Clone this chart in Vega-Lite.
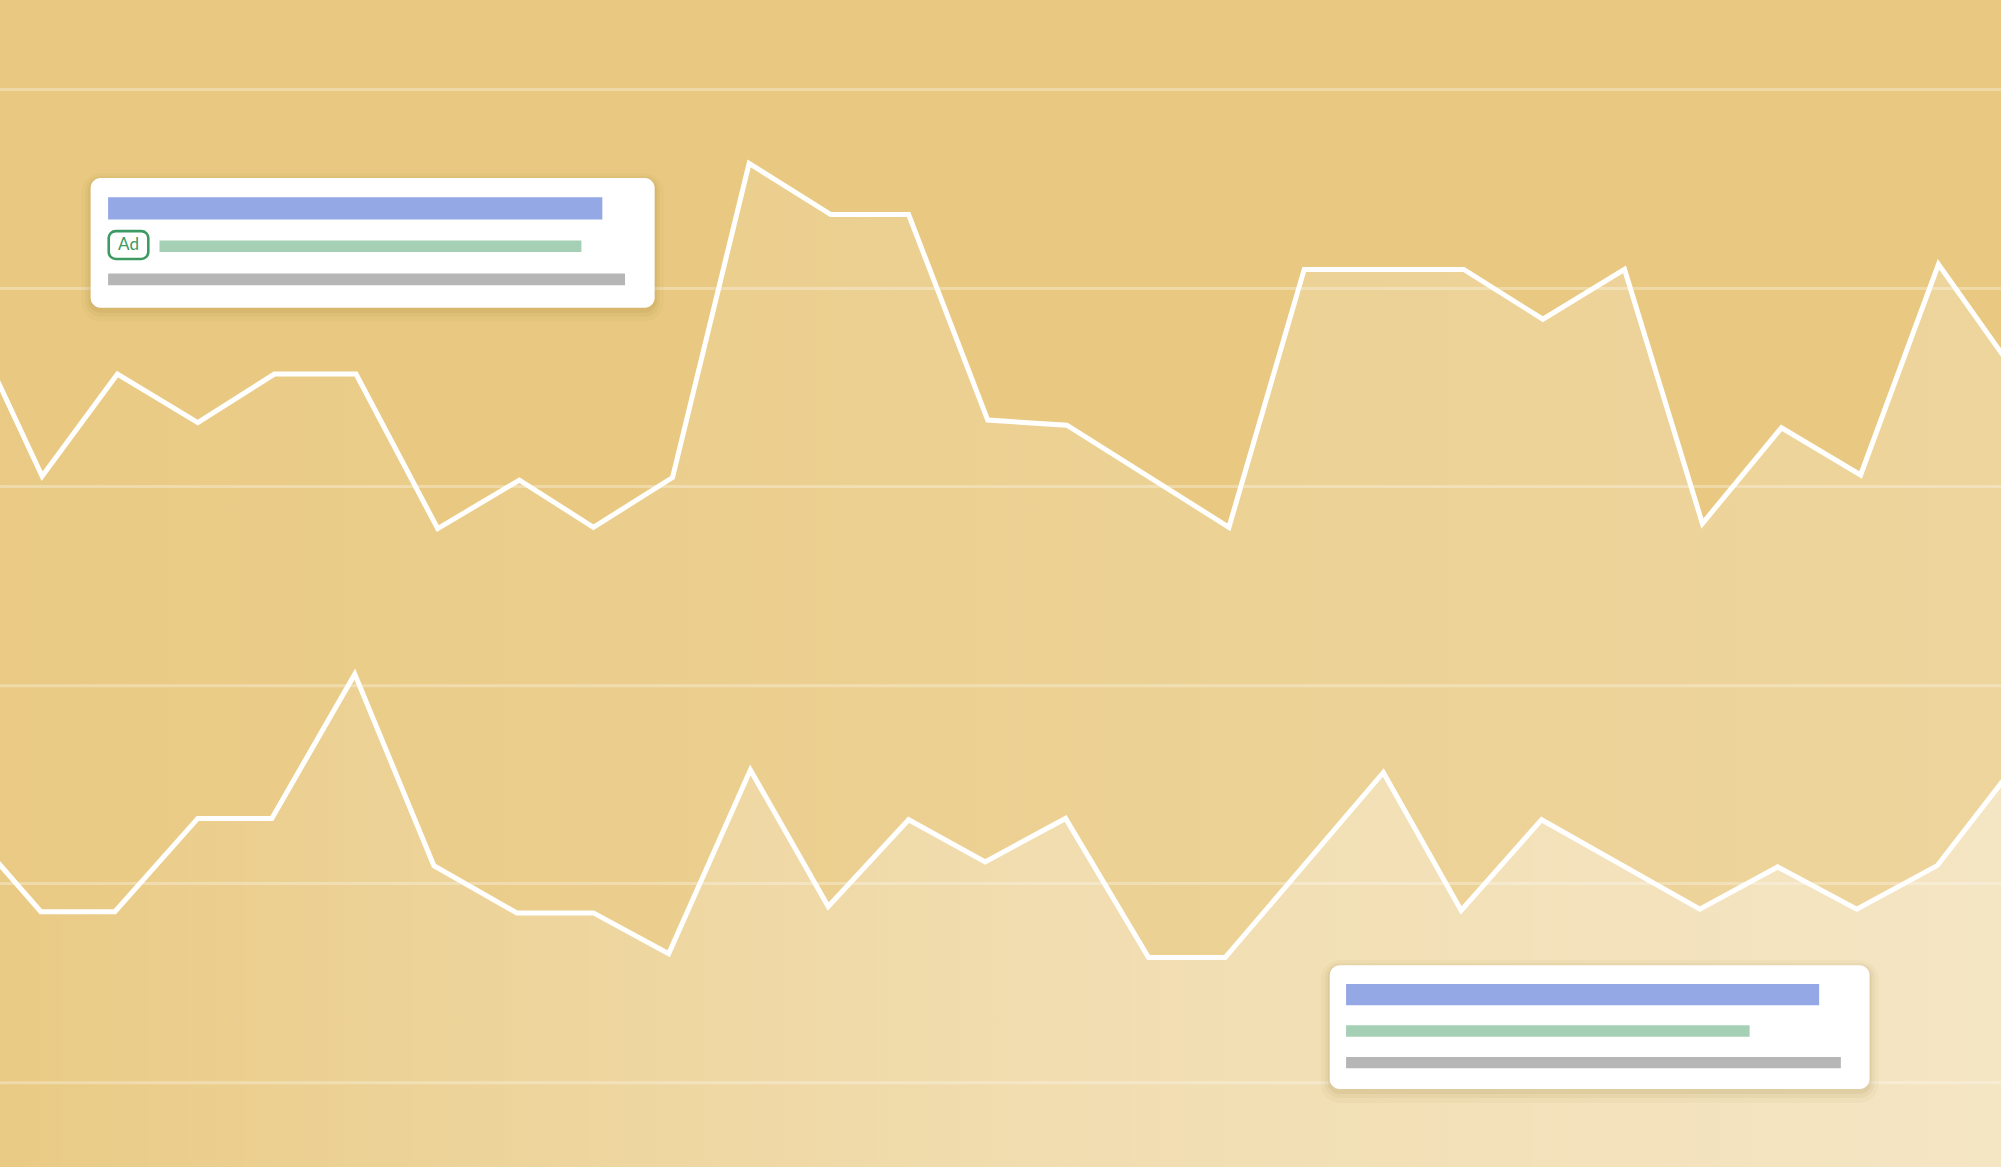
{
  "$schema": "https://vega.github.io/schema/vega-lite/v6.json",
  "width": 2001,
  "height": 1167,
  "autosize": {"type": "fit", "contains": "padding"},
  "padding": 0,
  "background": "#E9C981",
  "config": {"view": {"stroke": null}},
  "datasets": {
    "grid": [{"y": 70}, {"y": 226}, {"y": 381}, {"y": 537}, {"y": 692}, {"y": 848}],
    "upper": [
      {"x": -29, "y": 240}, {"x": 33, "y": 373}, {"x": 92, "y": 293}, {"x": 155, "y": 331},
      {"x": 215, "y": 293}, {"x": 279, "y": 293}, {"x": 343, "y": 414}, {"x": 407, "y": 376},
      {"x": 465, "y": 413}, {"x": 527, "y": 374}, {"x": 587, "y": 128}, {"x": 651, "y": 168},
      {"x": 712, "y": 168}, {"x": 774, "y": 329}, {"x": 836, "y": 333}, {"x": 963, "y": 413},
      {"x": 1022, "y": 211}, {"x": 1147, "y": 211}, {"x": 1209, "y": 250}, {"x": 1273, "y": 211},
      {"x": 1334, "y": 410}, {"x": 1396, "y": 335}, {"x": 1458, "y": 372}, {"x": 1519, "y": 207},
      {"x": 1580, "y": 293}
    ],
    "lower": [
      {"x": -30, "y": 643}, {"x": 32, "y": 714}, {"x": 90, "y": 714}, {"x": 155, "y": 641},
      {"x": 213, "y": 641}, {"x": 278, "y": 528}, {"x": 340, "y": 678}, {"x": 405, "y": 715},
      {"x": 465, "y": 715}, {"x": 524, "y": 747}, {"x": 588, "y": 603}, {"x": 649, "y": 710},
      {"x": 712, "y": 642}, {"x": 772, "y": 675}, {"x": 835, "y": 641}, {"x": 900, "y": 750},
      {"x": 960, "y": 750}, {"x": 1084, "y": 605}, {"x": 1145, "y": 713}, {"x": 1208, "y": 642},
      {"x": 1332, "y": 712}, {"x": 1393, "y": 679}, {"x": 1455, "y": 712}, {"x": 1518, "y": 678},
      {"x": 1580, "y": 598}
    ],
    "cards": [
      {"card": "top", "x": 71, "x2": 513, "y": 139.5, "y2": 241},
      {"card": "bottom", "x": 1042, "x2": 1465, "y": 756, "y2": 853}
    ],
    "bars": [
      {"card": "top", "kind": "title", "x": 84.7, "x2": 472, "y": 154.5, "y2": 172},
      {"card": "top", "kind": "ad", "x": 125, "x2": 455.6, "y": 188.3, "y2": 197.3},
      {"card": "top", "kind": "meta", "x": 84.7, "x2": 489.8, "y": 214.2, "y2": 223.4},
      {"card": "bottom", "kind": "title", "x": 1054.8, "x2": 1425.5, "y": 770.6, "y2": 787.4},
      {"card": "bottom", "kind": "ad", "x": 1054.8, "x2": 1371, "y": 803, "y2": 811.9},
      {"card": "bottom", "kind": "meta", "x": 1054.8, "x2": 1442.5, "y": 827.8, "y2": 836.7}
    ],
    "badge": [
      {"label": "Ad", "x": 85.2, "x2": 116.2, "y": 181, "y2": 202.8, "cx": 100.7, "cy": 192}
    ]
  },
  "layer": [
    {
      "data": {"name": "grid"},
      "mark": {"type": "rule", "clip": true, "color": "#FFFFFF", "opacity": 0.3, "strokeWidth": 3},
      "encoding": {
        "x": {"datum": 0, "type": "quantitative", "scale": {"domain": [0, 1568], "nice": false, "zero": false}, "axis": null},
        "x2": {"datum": 1568},
        "y": {"field": "y", "type": "quantitative", "scale": {"domain": [0, 914], "reverse": true, "nice": false, "zero": false}, "axis": null}
      }
    },
    {
      "data": {"name": "upper"},
      "mark": {
        "type": "area",
        "clip": true,
        "color": {
          "gradient": "linear", "x1": 0, "y1": 0, "x2": 1, "y2": 0,
          "stops": [
            {"offset": 0, "color": "rgba(255,255,255,0.02)"},
            {"offset": 0.5, "color": "rgba(255,255,255,0.14)"},
            {"offset": 1, "color": "rgba(255,255,255,0.22)"}
          ]
        }
      },
      "encoding": {
        "x": {"field": "x", "type": "quantitative", "axis": null},
        "y": {"field": "y", "type": "quantitative", "axis": null},
        "y2": {"datum": 914}
      }
    },
    {
      "data": {"name": "lower"},
      "mark": {
        "type": "area",
        "clip": true,
        "color": {
          "gradient": "linear", "x1": 0, "y1": 0, "x2": 1, "y2": 0,
          "stops": [
            {"offset": 0, "color": "rgba(255,255,255,0.0)"},
            {"offset": 0.5, "color": "rgba(255,255,255,0.25)"},
            {"offset": 1, "color": "rgba(255,255,255,0.4)"}
          ]
        }
      },
      "encoding": {
        "x": {"field": "x", "type": "quantitative", "axis": null},
        "y": {"field": "y", "type": "quantitative", "axis": null},
        "y2": {"datum": 914}
      }
    },
    {
      "data": {"name": "upper"},
      "mark": {"type": "line", "clip": true, "color": "#FFFFFF", "strokeWidth": 5, "strokeJoin": "miter", "strokeMiterLimit": 20},
      "encoding": {
        "x": {"field": "x", "type": "quantitative", "axis": null},
        "y": {"field": "y", "type": "quantitative", "axis": null}
      }
    },
    {
      "data": {"name": "lower"},
      "mark": {"type": "line", "clip": true, "color": "#FFFFFF", "strokeWidth": 5, "strokeJoin": "miter", "strokeMiterLimit": 20},
      "encoding": {
        "x": {"field": "x", "type": "quantitative", "axis": null},
        "y": {"field": "y", "type": "quantitative", "axis": null}
      }
    },
    {
      "data": {"name": "cards"},
      "mark": {"type": "rect", "color": "#7A5A12", "opacity": 0.04, "cornerRadius": 20, "xOffset": -9, "x2Offset": 9, "yOffset": -5, "y2Offset": 14},
      "encoding": {
        "x": {"field": "x", "type": "quantitative", "axis": null},
        "x2": {"field": "x2"},
        "y": {"field": "y", "type": "quantitative", "axis": null},
        "y2": {"field": "y2"}
      }
    },
    {
      "data": {"name": "cards"},
      "mark": {"type": "rect", "color": "#7A5A12", "opacity": 0.05, "cornerRadius": 15, "xOffset": -5, "x2Offset": 5, "yOffset": -2, "y2Offset": 9},
      "encoding": {
        "x": {"field": "x", "type": "quantitative", "axis": null},
        "x2": {"field": "x2"},
        "y": {"field": "y", "type": "quantitative", "axis": null},
        "y2": {"field": "y2"}
      }
    },
    {
      "data": {"name": "cards"},
      "mark": {"type": "rect", "color": "#7A5A12", "opacity": 0.07, "cornerRadius": 12, "xOffset": -2, "x2Offset": 2, "yOffset": 0, "y2Offset": 5},
      "encoding": {
        "x": {"field": "x", "type": "quantitative", "axis": null},
        "x2": {"field": "x2"},
        "y": {"field": "y", "type": "quantitative", "axis": null},
        "y2": {"field": "y2"}
      }
    },
    {
      "data": {"name": "cards"},
      "mark": {"type": "rect", "color": "#FFFFFF", "cornerRadius": 10},
      "encoding": {
        "x": {"field": "x", "type": "quantitative", "axis": null},
        "x2": {"field": "x2"},
        "y": {"field": "y", "type": "quantitative", "axis": null},
        "y2": {"field": "y2"}
      }
    },
    {
      "data": {"name": "bars"},
      "mark": {"type": "rect"},
      "encoding": {
        "x": {"field": "x", "type": "quantitative", "axis": null},
        "x2": {"field": "x2"},
        "y": {"field": "y", "type": "quantitative", "axis": null},
        "y2": {"field": "y2"},
        "color": {
          "field": "kind", "type": "nominal", "legend": null,
          "scale": {"domain": ["title", "ad", "meta"], "range": ["#93A8E4", "#A5D0B5", "#B5B6B5"]}
        }
      }
    },
    {
      "data": {"name": "badge"},
      "mark": {"type": "rect", "fill": "#FFFFFF", "stroke": "#3C9A62", "strokeWidth": 2.6, "cornerRadius": 7},
      "encoding": {
        "x": {"field": "x", "type": "quantitative", "axis": null},
        "x2": {"field": "x2"},
        "y": {"field": "y", "type": "quantitative", "axis": null},
        "y2": {"field": "y2"}
      }
    },
    {
      "data": {"name": "badge"},
      "mark": {"type": "text", "color": "#3C9A62", "font": "Lato", "fontSize": 17, "align": "center", "baseline": "middle"},
      "encoding": {
        "x": {"field": "cx", "type": "quantitative", "axis": null},
        "y": {"field": "cy", "type": "quantitative", "axis": null},
        "text": {"field": "label"}
      }
    }
  ]
}
